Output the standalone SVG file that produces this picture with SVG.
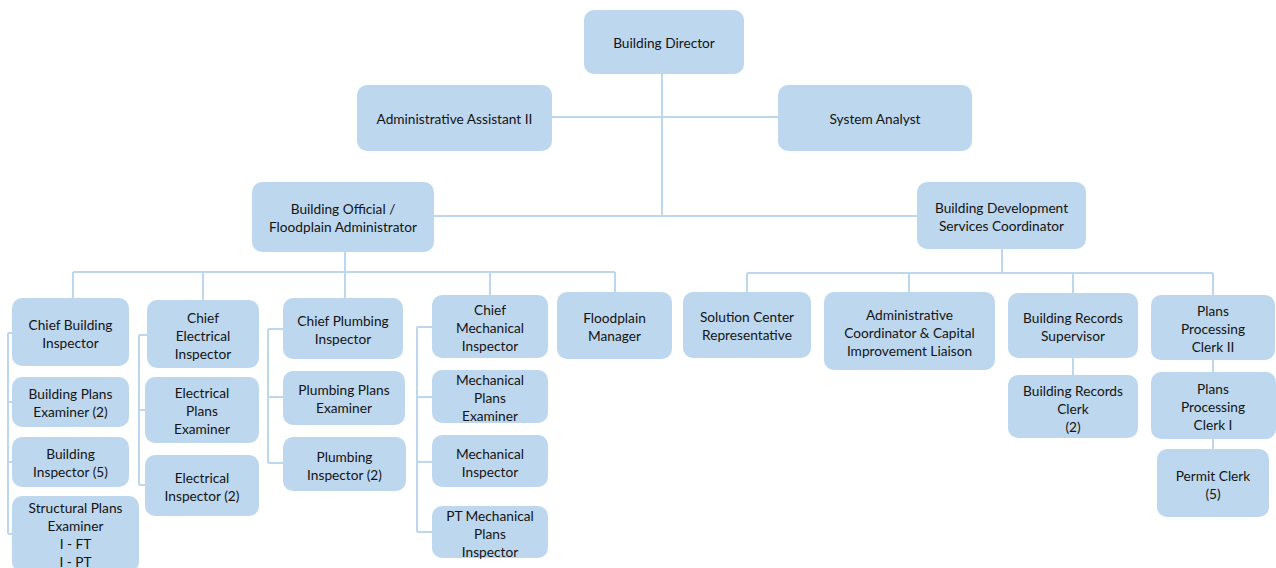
<svg xmlns="http://www.w3.org/2000/svg" width="1276" height="568" viewBox="0 0 1276 568">
<style>
.box{fill:#bdd7ee;}
.t{font-family:Lato,"Open Sans","Liberation Sans",sans-serif;font-size:13.7px;fill:#141414;text-anchor:middle;dominant-baseline:central;}
.c{stroke:#bdd7ee;stroke-width:2;fill:none;}
</style>
<rect width="1276" height="568" fill="#ffffff"/>
<g id="connectors">
<path class="c" d="M662 74V216M552 117H778M434 216H917"/>
<path class="c" d="M345 252V272M73 272H615M73 272V298M203 272V300M345 272V298M490 272V295M615 272V292"/>
<path class="c" d="M1002 249V273M747 273H1213M747 273V292M909 273V292M1073 273V293M1213 273V295"/>
<path class="c" d="M8 333V534M8 333H12M8 402H12M8 462H12M8 534H12"/>
<path class="c" d="M139 335V485M139 335H147M139 410H145M139 485H145"/>
<path class="c" d="M268 329V463M268 329H283M268 397H283M268 463H283"/>
<path class="c" d="M417 327V532M417 327H432M417 397H432M417 462H432M417 532H432"/>
<path class="c" d="M1073 358V375M1213 360V372M1213 439V449"/>
</g>
<g id="director"><rect class="box" x="584" y="10" width="160" height="64" rx="10"/><text class="t" x="664" y="42">Building Director</text></g>
<g id="admin_asst"><rect class="box" x="357" y="85" width="195" height="66" rx="10"/><text class="t" x="454.5" y="118">Administrative Assistant II</text></g>
<g id="sys_analyst"><rect class="box" x="778" y="85" width="194" height="66" rx="10"/><text class="t" x="875" y="118">System Analyst</text></g>
<g id="bldg_official"><rect class="box" x="252" y="182" width="182" height="70" rx="10"/><text class="t" x="343" y="208">Building Official /</text><text class="t" x="343" y="226">Floodplain Administrator</text></g>
<g id="bdsc"><rect class="box" x="917" y="182" width="169" height="67" rx="10"/><text class="t" x="1001.5" y="207">Building Development</text><text class="t" x="1001.5" y="225">Services Coordinator</text></g>
<g id="chief_bldg"><rect class="box" x="12" y="298" width="117" height="68" rx="10"/><text class="t" x="70.5" y="324">Chief Building</text><text class="t" x="70.5" y="342">Inspector</text></g>
<g id="bpe"><rect class="box" x="12" y="377" width="117" height="50" rx="10"/><text class="t" x="70.5" y="393">Building Plans</text><text class="t" x="70.5" y="411">Examiner (2)</text></g>
<g id="bi"><rect class="box" x="12" y="437" width="117" height="50" rx="10"/><text class="t" x="70.5" y="453">Building</text><text class="t" x="70.5" y="471">Inspector (5)</text></g>
<g id="spe"><rect class="box" x="12" y="496" width="127" height="76" rx="10"/><text class="t" x="75.5" y="507">Structural Plans</text><text class="t" x="75.5" y="525">Examiner</text><text class="t" x="75.5" y="543">I - FT</text><text class="t" x="75.5" y="561">I - PT</text></g>
<g id="chief_elec"><rect class="box" x="147" y="300" width="112" height="68" rx="10"/><text class="t" x="203" y="317">Chief</text><text class="t" x="203" y="335">Electrical</text><text class="t" x="203" y="353">Inspector</text></g>
<g id="epe"><rect class="box" x="145" y="377" width="114" height="66" rx="10"/><text class="t" x="202" y="392">Electrical</text><text class="t" x="202" y="410">Plans</text><text class="t" x="202" y="428">Examiner</text></g>
<g id="ei"><rect class="box" x="145" y="455" width="114" height="61" rx="10"/><text class="t" x="202" y="477">Electrical</text><text class="t" x="202" y="495">Inspector (2)</text></g>
<g id="chief_plumb"><rect class="box" x="283" y="298" width="120" height="61" rx="10"/><text class="t" x="343" y="320">Chief Plumbing</text><text class="t" x="343" y="338">Inspector</text></g>
<g id="ppe"><rect class="box" x="283" y="371" width="122" height="54" rx="10"/><text class="t" x="344" y="389">Plumbing Plans</text><text class="t" x="344" y="407">Examiner</text></g>
<g id="pi"><rect class="box" x="283" y="437" width="123" height="54" rx="10"/><text class="t" x="344.5" y="456">Plumbing</text><text class="t" x="344.5" y="474">Inspector (2)</text></g>
<g id="chief_mech"><rect class="box" x="432" y="295" width="116" height="63" rx="10"/><text class="t" x="490" y="309">Chief</text><text class="t" x="490" y="327">Mechanical</text><text class="t" x="490" y="345">Inspector</text></g>
<g id="mpe"><rect class="box" x="432" y="370" width="116" height="53" rx="10"/><text class="t" x="490" y="379">Mechanical</text><text class="t" x="490" y="397">Plans</text><text class="t" x="490" y="415">Examiner</text></g>
<g id="mi"><rect class="box" x="432" y="435" width="116" height="52" rx="10"/><text class="t" x="490" y="453">Mechanical</text><text class="t" x="490" y="471">Inspector</text></g>
<g id="ptmpi"><rect class="box" x="432" y="506" width="116" height="52" rx="10"/><text class="t" x="490" y="515">PT Mechanical</text><text class="t" x="490" y="533">Plans</text><text class="t" x="490" y="551">Inspector</text></g>
<g id="floodplain_mgr"><rect class="box" x="557" y="292" width="115" height="67" rx="10"/><text class="t" x="614.5" y="317">Floodplain</text><text class="t" x="614.5" y="335">Manager</text></g>
<g id="solution_center"><rect class="box" x="683" y="292" width="128" height="66" rx="10"/><text class="t" x="747" y="316">Solution Center</text><text class="t" x="747" y="334">Representative</text></g>
<g id="admin_coord"><rect class="box" x="824" y="292" width="171" height="78" rx="10"/><text class="t" x="909.5" y="314">Administrative</text><text class="t" x="909.5" y="332">Coordinator &amp; Capital</text><text class="t" x="909.5" y="350">Improvement Liaison</text></g>
<g id="brs"><rect class="box" x="1008" y="293" width="130" height="65" rx="10"/><text class="t" x="1073" y="317">Building Records</text><text class="t" x="1073" y="335">Supervisor</text></g>
<g id="brc"><rect class="box" x="1008" y="375" width="130" height="63" rx="10"/><text class="t" x="1073" y="390">Building Records</text><text class="t" x="1073" y="408">Clerk</text><text class="t" x="1073" y="426">(2)</text></g>
<g id="ppc2"><rect class="box" x="1151" y="295" width="124" height="65" rx="10"/><text class="t" x="1213" y="310">Plans</text><text class="t" x="1213" y="328">Processing</text><text class="t" x="1213" y="346">Clerk II</text></g>
<g id="ppc1"><rect class="box" x="1151" y="372" width="125" height="67" rx="10"/><text class="t" x="1213" y="388">Plans</text><text class="t" x="1213" y="406">Processing</text><text class="t" x="1213" y="424">Clerk I</text></g>
<g id="permit"><rect class="box" x="1157" y="449" width="112" height="68" rx="10"/><text class="t" x="1213" y="475">Permit Clerk</text><text class="t" x="1213" y="493">(5)</text></g>
</svg>
